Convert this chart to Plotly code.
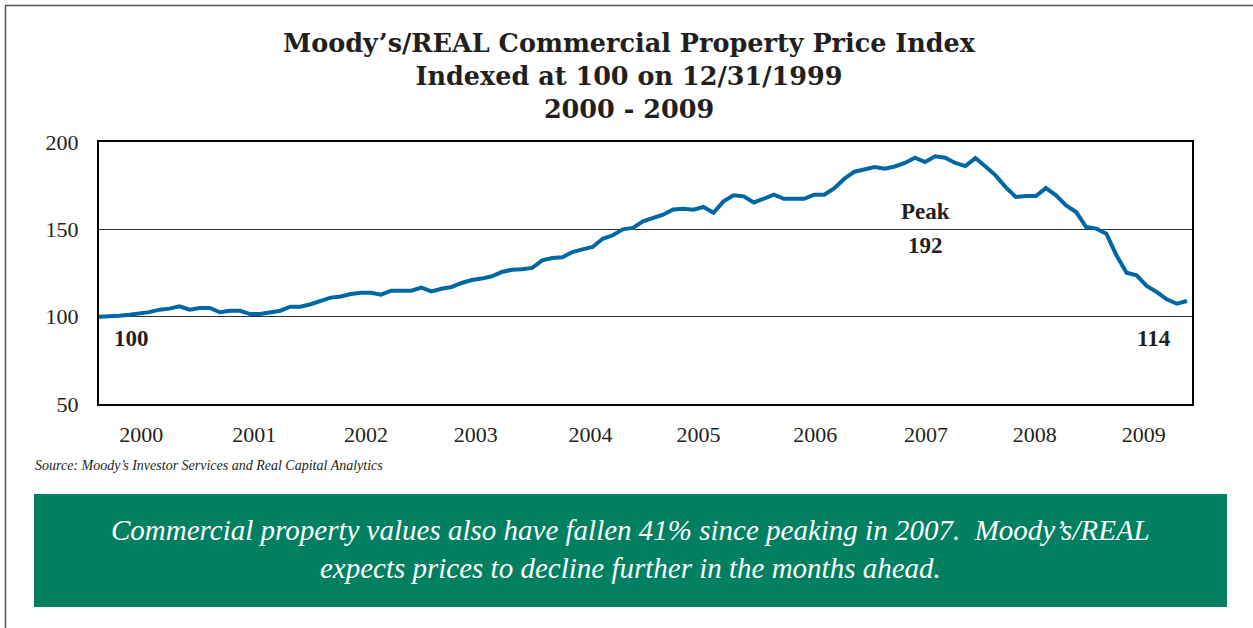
import plotly.graph_objects as go

# Moody's/REAL CPPI (index, 12/31/1999 = 100)
index_values = [
    100.0, 100.0, 100.5, 101.1, 101.8, 102.6, 104.0, 104.6, 105.9, 104.0,
    105.0, 105.0, 102.5, 103.4, 103.4, 101.5, 101.5, 102.5, 103.4, 105.7,
    105.7, 107.1, 109.0, 110.9, 111.6, 113.0, 113.7, 113.7, 112.6, 114.9,
    114.9, 114.9, 116.6, 114.5, 116.0, 117.0, 119.3, 121.0, 121.8, 123.1,
    125.6, 126.9, 127.1, 127.9, 132.2, 133.6, 134.0, 137.0, 138.5, 139.9,
    144.6, 146.6, 150.0, 150.8, 154.6, 156.3, 158.4, 161.4, 161.8, 161.2,
    162.8, 159.5, 166.0, 169.5, 168.9, 165.4, 167.5, 169.8, 167.5, 167.5,
    167.5, 169.8, 169.8, 173.6, 179.0, 183.0, 184.5, 185.7, 184.7, 186.0,
    188.0, 191.0, 188.5, 191.8, 191.0, 188.0, 186.2, 190.8, 186.0, 180.9,
    174.2, 168.5, 169.1, 169.1, 173.6, 169.5, 163.7, 159.9, 151.3, 150.4,
    147.5, 135.1, 125.2, 123.7, 117.6, 114.1, 109.9, 107.4, 109.0,
]
periods = list(range(len(index_values)))

year_labels = ["2000", "2001", "2002", "2003", "2004",
               "2005", "2006", "2007", "2008", "2009"]
year_positions = [4.2, 15.4, 26.5, 37.4, 48.8, 59.5, 71.1, 82.1, 92.9, 103.7]

y_ticks = [50, 100, 150, 200]

W, H = 1253, 628
serif = "Liberation Serif"

fig = go.Figure()
fig.add_trace(go.Scatter(
    x=periods, y=index_values, mode="lines",
    line=dict(color="#0067A5", width=4),
    hoverinfo="y",
))

fig.update_layout(
    width=W, height=H,
    template="none",
    margin=dict(l=0, r=0, t=0, b=0),
    paper_bgcolor="white", plot_bgcolor="white",
    showlegend=False,
    font=dict(family=serif, color="#231f20"),
)

fig.update_xaxes(
    domain=[99 / W, 1192 / W],
    range=[0, 108.5],
    tickvals=year_positions, ticktext=year_labels,
    ticks="", showgrid=False, zeroline=False,
    showline=True, mirror=True, linecolor="black", linewidth=2,
    tickfont=dict(family=serif, size=22, color="#231f20"),
    ticklabelstandoff=10,
)
fig.update_yaxes(
    domain=[1 - 404 / H, 1 - 142 / H],
    range=[50, 200],
    tickvals=y_ticks,
    ticks="", showgrid=True, gridcolor="#333333", gridwidth=1, zeroline=False,
    showline=True, mirror=True, linecolor="black", linewidth=2,
    tickfont=dict(family=serif, size=22, color="#231f20"),
    ticklabelstandoff=14,
)

# title
fig.add_annotation(
    xref="paper", yref="paper", x=629 / W, y=1 - 76 / H,
    xanchor="center", yanchor="middle", showarrow=False,
    text="<b>Moody’s/REAL Commercial Property Price Index<br>"
         "Indexed at 100 on 12/31/1999<br>2000 - 2009</b>",
    font=dict(family="DejaVu Serif", size=25.5, color="#231f20"),
)

# labels on the chart
labels = [("100", 3.2, 87.3), ("Peak", 82.0, 160.3), ("192", 82.0, 140.9), ("114", 104.7, 87.3)]
for txt, lx, ly in labels:
    fig.add_annotation(
        x=lx, y=ly, text=f"<b>{txt}</b>", showarrow=False,
        xanchor="center", yanchor="middle",
        font=dict(family=serif, size=23, color="#231f20"),
    )

# source
fig.add_annotation(
    xref="paper", yref="paper", x=33 / W, y=1 - 466 / H,
    xanchor="left", yanchor="middle", showarrow=False,
    text="<i>Source: Moody’s Investor Services and Real Capital Analytics</i>",
    font=dict(family=serif, size=14, color="#231f20"),
)

# green message box
fig.add_shape(
    type="rect", xref="paper", yref="paper",
    x0=34 / W, x1=1227 / W, y0=1 - 607 / H, y1=1 - 494 / H,
    fillcolor="#008060", line=dict(width=0), layer="below",
)
fig.add_annotation(
    xref="paper", yref="paper", x=630 / W, y=1 - 549 / H,
    xanchor="center", yanchor="middle", showarrow=False,
    text="<i>Commercial property values also have fallen 41% since peaking in 2007.  Moody’s/REAL<br>"
         "expects prices to decline further in the months ahead.</i>",
    font=dict(family=serif, size=29, color="white"),
)

# outer frame (top and left edges)
fig.add_shape(type="line", xref="paper", yref="paper",
              x0=5 / W, x1=1, y0=1 - 5.5 / H, y1=1 - 5.5 / H,
              line=dict(color="#555555", width=1.5))
fig.add_shape(type="line", xref="paper", yref="paper",
              x0=5.5 / W, x1=5.5 / W, y0=0, y1=1 - 5 / H,
              line=dict(color="#555555", width=1.5))

fig.write_html("out.html", config={"displayModeBar": False},
               post_script="document.body.style.margin = '0';")
